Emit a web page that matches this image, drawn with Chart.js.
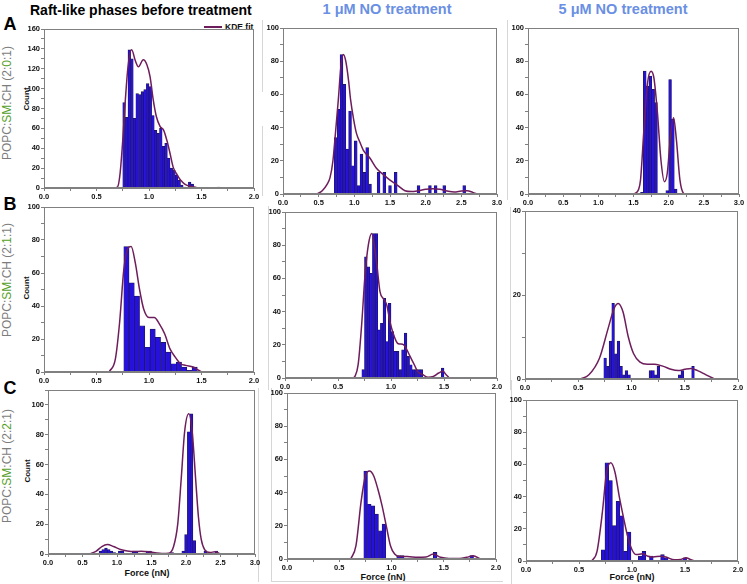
<!DOCTYPE html>
<html>
<head>
<meta charset="utf-8">
<script src="https://cdn.jsdelivr.net/npm/chart.js@4.4.1/dist/chart.umd.min.js"></script>
<style>
  body { margin: 0; background: #fff; width: 747px; height: 584px; position: relative; overflow: hidden;
         font-family: "Liberation Sans", Arial, sans-serif; }
  canvas { position: absolute; }
  .t { position: absolute; white-space: nowrap; line-height: 1; transform: translate(-50%, -50%); }
  .rot { transform: translate(-50%, -50%) rotate(-90deg); }
  .group { font-size: 12px; color: #7d7d7d; }
  .group b { color: #55a02a; font-weight: normal; }
  .cnt { font-size: 8px; font-weight: bold; color: #111; }
  .force { font-size: 9px; font-weight: bold; color: #111; }
  .letter { font-size: 18px; font-weight: bold; color: #000; }
  .head { font-size: 14.5px; font-weight: bold; color: #6a8fe3; }
  .sep { position: absolute; background: #d6d6d6; }
</style>
</head>
<body>
<div class="t" style="left:30px;top:10px;transform:translateY(-50%);font-size:14px;font-weight:bold;color:#000">Raft-like phases before treatment</div>
<div class="t head" style="left:387px;top:9px">1 μM NO treatment</div>
<div class="t head" style="left:623px;top:9px">5 μM NO treatment</div>

<div class="t letter" style="left:10px;top:24px">A</div>
<div class="t letter" style="left:10px;top:204px">B</div>
<div class="t letter" style="left:10px;top:388px">C</div>

<div class="t rot group" style="left:7px;top:103px">POPC:<b>SM</b>:CH (2:<b>0</b>:1)</div>
<div class="t rot group" style="left:7px;top:280px">POPC:<b>SM</b>:CH (2:<b>1</b>:1)</div>
<div class="t rot group" style="left:7px;top:466px">POPC:<b>SM</b>:CH (2:<b>2</b>:1)</div>

<div class="t rot cnt" style="left:27px;top:99px">Count</div>
<div class="t rot cnt" style="left:27px;top:288px">Count</div>
<div class="t rot cnt" style="left:28px;top:471px">Count</div>

<div class="t force" style="left:147px;top:573px">Force (nN)</div>
<div class="t force" style="left:383px;top:577px">Force (nN)</div>
<div class="t force" style="left:632px;top:577px">Force (nN)</div>

<div style="position:absolute;left:204px;top:26px;width:18px;height:1.5px;background:#6e1d5c"></div>
<div class="t" style="left:225px;top:27px;transform:translateY(-50%);font-size:8.5px;font-weight:bold;color:#111">KDE fit</div>

<div class="sep" style="left:262px;top:20px;width:1px;height:72px"></div>
<div class="sep" style="left:262px;top:126px;width:1px;height:70px"></div>
<div class="sep" style="left:507px;top:20px;width:1px;height:180px"></div>
<div class="sep" style="left:268px;top:206px;width:1px;height:184px"></div>
<div class="sep" style="left:510px;top:207px;width:1px;height:183px"></div>
<div class="sep" style="left:258px;top:388px;width:1px;height:194px"></div>
<div class="sep" style="left:271px;top:388px;width:1px;height:194px"></div>
<div class="sep" style="left:271px;top:581px;width:232px;height:1px"></div>
<div class="sep" style="left:511px;top:380px;width:1px;height:204px"></div>

<canvas id="a1"></canvas><canvas id="a2"></canvas><canvas id="a3"></canvas>
<canvas id="b1"></canvas><canvas id="b2"></canvas><canvas id="b3"></canvas>
<canvas id="c1"></canvas><canvas id="c2"></canvas><canvas id="c3"></canvas>

<script>
// tick labels
const force2 = [0, 0.5, 1.0, 1.5, 2.0];
const force3 = [0, 0.5, 1.0, 1.5, 2.0, 2.5, 3.0];
const count160 = [0, 20, 40, 60, 80, 100, 120, 140, 160];
const count100 = [0, 20, 40, 60, 80, 100];
const count40 = [0, 20, 40];

// A: POPC:SM:CH (2:0:1)
const a1Start = 0.75, a1Bin = 0.025;
const a1Counts = [86, 71, 139, 130, 70, 95, 94, 97, 99, 105, 102, 73, 58, 55, 60, 42, 45, 30, 20, 18, 13, 8, 3, 1, 0, 6, 4,
  0, 0, 0, 0, 0, 0, 0, 0, 0, 1];
const a1KdeX = [0.66, 0.70, 0.725, 0.75, 0.775, 0.80, 0.835, 0.87, 0.90, 0.945, 0.98, 1.01, 1.04, 1.07, 1.105, 1.14, 1.17, 1.20, 1.23, 1.27, 1.30, 1.34, 1.38, 1.43, 1.47];
const a1KdeY = [0, 1, 15, 48, 89, 122, 139, 128, 122, 129, 124, 112, 89, 72, 62, 58, 48, 35, 21, 13, 8, 4, 2, 1, 0];

const a2Start = 0.72, a2Bin = 0.04;
const a2Counts = [34, 51, 84, 66, 27, 50, 17, 32, 5, 24, 13, 28, 6, 0, 0, 13, 0, 13, 0, 5, 0, 13,
  0, 0, 0, 0, 0, 0, 0, 5, 0, 0, 0, 5, 0, 5, 0, 0, 5, 0, 0, 0, 0, 0, 0, 5];
const a2KdeX = [0.48, 0.55, 0.62, 0.66, 0.70, 0.73, 0.776, 0.81, 0.846, 0.88, 0.92, 0.947, 0.99, 1.03, 1.08, 1.125, 1.22, 1.31, 1.41, 1.50, 1.60, 1.71, 1.80, 1.90, 2.00, 2.10, 2.20, 2.30, 2.40, 2.50, 2.58, 2.66, 2.72];
const a2KdeY = [0, 2, 6, 10, 20, 34, 57, 76, 84, 80, 68, 57, 45, 36.5, 31, 26.5, 21.5, 15.5, 11.5, 8.4, 5.4, 2, 1.5, 2, 2.8, 3.2, 2.8, 1.8, 1.2, 1.8, 2, 1, 0];

const a3Start = 1.60, a3Bin = 0.04;
const a3Counts = [1, 74, 65, 71, 63, 55, 0, 0, 0, 2, 69, 45, 3];
const a3KdeX = [1.50, 1.53, 1.57, 1.60, 1.65, 1.70, 1.75, 1.79, 1.84, 1.89, 1.94, 1.98, 2.03, 2.07, 2.11, 2.16, 2.21, 2.24];
const a3KdeY = [0, 0.5, 2.5, 8.5, 40, 67, 74, 70, 49, 20.5, 7.4, 12.5, 36.6, 46, 32.6, 8.5, 0.5, 0];

// B: POPC:SM:CH (2:1:1)
const b1Start = 0.76, b1Bin = 0.05;
const b1Counts = [76, 54, 46, 28, 15, 26, 21, 18, 12, 5, 6, 3, 1, 3];
const b1KdeX = [0.62, 0.68, 0.72, 0.76, 0.80, 0.83, 0.87, 0.91, 0.95, 1.00, 1.05, 1.10, 1.15, 1.20, 1.25, 1.30, 1.35, 1.42, 1.46, 1.50];
const b1KdeY = [0, 8, 30, 62, 75, 76, 66, 50, 38, 33, 33, 29, 23, 14, 9, 5, 4, 3, 1.5, 0];

const b2Start = 0.725, b2Bin = 0.025;
const b2Counts = [5, 73, 67, 63, 87, 87, 29, 33, 48, 22, 45, 28, 16, 16, 5, 17, 27, 13, 8, 5, 5, 5, 5,
  0, 0, 0, 0, 0, 0, 0, 6];
const b2KdeX = [0.64, 0.66, 0.69, 0.723, 0.755, 0.786, 0.818, 0.865, 0.896, 0.93, 0.96, 0.99, 1.025, 1.06, 1.085, 1.12, 1.15, 1.18, 1.22, 1.25, 1.30, 1.35, 1.40, 1.45, 1.49, 1.52, 1.55];
const b2KdeY = [0, 1, 8, 32, 62, 80, 87, 69, 52, 47.6, 44, 34, 26, 21, 20.5, 20, 17, 13, 8, 4, 2, 0.5, 1, 3, 4, 2, 0];

const b3Start = 0.74, b3Bin = 0.025;
const b3Counts = [5, 3, 9, 18, 6, 9, 3, 1, 2, 1, 0, 0, 0, 0, 0, 0, 0, 2, 2, 1, 3,
  0, 0, 0, 0, 0, 0, 0, 1, 2, 0, 0, 0, 3];
const b3KdeX = [0.52, 0.60, 0.70, 0.78, 0.84, 0.875, 0.92, 0.97, 1.02, 1.08, 1.15, 1.22, 1.30, 1.37, 1.44, 1.50, 1.56, 1.62, 1.70, 1.78];
const b3KdeY = [0, 1, 5, 12, 17, 18, 16, 10, 6, 4, 3.5, 3.5, 3, 2.3, 2, 2.3, 2.5, 2, 1, 0];

// C: POPC:SM:CH (2:2:1)
const c1Start = 0.74, c1Bin = 0.04;
const c1Counts = [2, 3, 4, 3, 2, 1, 0, 2, 2, 0, 0, 0, 2, 2, 0, 0, 0, 2, 2, 0, 0, 0, 0, 0, 0, 0, 1,
  0, 0, 0, 2, 13, 82, 94, 9, 0, 0, 0, 2, 0, 0, 0, 2];
const c1KdeX = [0.60, 0.70, 0.78, 0.86, 0.95, 1.05, 1.15, 1.25, 1.35, 1.45, 1.55, 1.65, 1.75, 1.82, 1.88, 1.93, 1.98, 2.04, 2.09, 2.14, 2.18, 2.22, 2.27, 2.35, 2.42, 2.50];
const c1KdeY = [0, 2, 5, 6.3, 5, 3, 2, 1.6, 1.8, 1.5, 0.8, 0.3, 0.5, 5, 20, 50, 82, 94, 82, 50, 25, 10, 3, 1, 1.5, 0];

const c2Start = 0.735, c2Bin = 0.035;
const c2Counts = [53, 33, 32, 27, 17, 21, 0, 0, 0, 2, 2, 0, 0, 0, 0, 0, 0, 0, 0, 4,
  0, 0, 0, 0, 0, 0, 0, 0, 0, 2];
const c2KdeX = [0.61, 0.66, 0.71, 0.75, 0.79, 0.83, 0.87, 0.91, 0.95, 0.99, 1.03, 1.08, 1.15, 1.25, 1.33, 1.40, 1.47, 1.55, 1.65, 1.72, 1.78, 1.85];
const c2KdeY = [0, 8, 35, 50, 53, 50, 42, 32, 20, 8, 3, 1.5, 1.5, 1, 1.2, 3, 1, 0.3, 0.3, 1, 2, 0];

const c3Start = 0.71, c3Bin = 0.035;
const c3Counts = [7, 61, 50, 22, 37, 28, 6, 18, 0, 0, 3, 6, 0, 3, 0, 0, 4, 2, 0, 0, 0, 0, 2];
const c3KdeX = [0.62, 0.67, 0.72, 0.76, 0.80, 0.84, 0.88, 0.92, 0.96, 1.00, 1.04, 1.10, 1.15, 1.20, 1.27, 1.32, 1.40, 1.46, 1.51, 1.55, 1.59];
const c3KdeY = [0, 6, 30, 55, 61, 55, 40, 27, 15, 7, 4, 4.5, 3, 2.5, 3, 2.5, 0.7, 1, 2, 1, 0];

const axisGray = "#808080";
const yAxisW = 28, xAxisH = 14, padTop = 8, padRight = 10;

Chart.defaults.font.family = '"Liberation Sans", Arial, sans-serif';

const frame = {
  id: "frame",
  afterDraw(chart) {
    const { ctx, chartArea: a } = chart;
    ctx.save();
    ctx.strokeStyle = axisGray;
    ctx.lineWidth = 1;
    ctx.strokeRect(Math.round(a.left) + 0.5, Math.round(a.top) + 0.5, Math.round(a.right - a.left) - 1, Math.round(a.bottom - a.top) - 1);
    ctx.restore();
  },
};

function withMinor(labels, max) {
  const out = [];
  for (let i = 0; i < labels.length; i++) {
    out.push(labels[i]);
    if (i < labels.length - 1) out.push((labels[i] + labels[i + 1]) / 2);
  }
  const step = labels[1] - labels[0];
  let v = labels[labels.length - 1] + step / 2;
  while (v <= max + 1e-9) { out.push(v); v += step / 2; }
  return out;
}

function drawPanel(id, box, start, bin, counts, kdeX, kdeY, xLabels, yLabels, yMax) {
  const canvas = document.getElementById(id);
  const w = box.right - box.left + yAxisW + padRight;
  const h = padTop + box.bottom - box.top + xAxisH;
  canvas.width = w;
  canvas.height = h;
  canvas.style.left = box.left - yAxisW + "px";
  canvas.style.top = box.top - padTop + "px";

  const xMax = xLabels[xLabels.length - 1];
  const xTicks = withMinor(xLabels, xMax);
  const yTicks = withMinor(yLabels, yMax);
  const tickFont = { size: 7.5, weight: "bold" };

  new Chart(canvas, {
    type: "bar",
    data: {
      datasets: [
        {
          type: "line",
          data: kdeX.map((x, i) => ({ x: x, y: kdeY[i] })),
          borderColor: "#6e1d5c",
          borderWidth: 1.5,
          pointRadius: 0,
          cubicInterpolationMode: "monotone",
          order: 0,
        },
        {
          type: "bar",
          data: counts.map((c, i) => ({ x: start + bin * (i + 0.5), y: c || null })),
          backgroundColor: "#2611dc",
          borderColor: "#1d1650",
          borderWidth: 0.7,
          barPercentage: 1,
          categoryPercentage: 1,
          order: 1,
        },
      ],
    },
    options: {
      responsive: false,
      animation: false,
      layout: { padding: { top: padTop, right: padRight, left: 0, bottom: 0 } },
      plugins: { legend: { display: false }, tooltip: { enabled: false } },
      scales: {
        x: {
          type: "linear",
          min: 0,
          max: xMax,
          offset: false,
          afterBuildTicks: (s) => { s.ticks = xTicks.map((v) => ({ value: v })); },
          afterFit: (s) => { s.height = xAxisH; },
          grid: { drawOnChartArea: false, tickLength: 3, color: axisGray, offset: false },
          border: { color: axisGray },
          ticks: {
            autoSkip: false, maxRotation: 0, padding: 1, color: "#111", font: tickFont,
            callback: (v) => (xLabels.includes(v) ? v.toFixed(1) : ""),
          },
        },
        y: {
          min: 0,
          max: yMax,
          afterBuildTicks: (s) => { s.ticks = yTicks.map((v) => ({ value: v })); },
          afterFit: (s) => { s.width = yAxisW; },
          grid: { drawOnChartArea: false, tickLength: 3, color: axisGray },
          border: { color: axisGray },
          ticks: {
            autoSkip: false, padding: 1, color: "#111", font: tickFont,
            callback: (v) => (yLabels.includes(v) ? String(v) : ""),
          },
        },
      },
    },
    plugins: [frame],
  });
}

drawPanel("a1", { left: 44, top: 29, right: 254, bottom: 188 }, a1Start, a1Bin, a1Counts, a1KdeX, a1KdeY, force2, count160, 160);
drawPanel("a2", { left: 283, top: 28, right: 497, bottom: 194 }, a2Start, a2Bin, a2Counts, a2KdeX, a2KdeY, force3, count100, 100);
drawPanel("a3", { left: 528, top: 28, right: 739, bottom: 194 }, a3Start, a3Bin, a3Counts, a3KdeX, a3KdeY, force3, count100, 100);
drawPanel("b1", { left: 44, top: 207, right: 254, bottom: 372 }, b1Start, b1Bin, b1Counts, b1KdeX, b1KdeY, force2, count100, 100);
drawPanel("b2", { left: 285, top: 212, right: 497, bottom: 378 }, b2Start, b2Bin, b2Counts, b2KdeX, b2KdeY, force2, count100, 100);
drawPanel("b3", { left: 525, top: 211, right: 738, bottom: 379 }, b3Start, b3Bin, b3Counts, b3KdeX, b3KdeY, force2, count40, 40);
drawPanel("c1", { left: 48, top: 390, right: 255, bottom: 554 }, c1Start, c1Bin, c1Counts, c1KdeX, c1KdeY, force3, count100, 110);
drawPanel("c2", { left: 287, top: 393, right: 496, bottom: 559 }, c2Start, c2Bin, c2Counts, c2KdeX, c2KdeY, force2, count100, 100);
drawPanel("c3", { left: 526, top: 400, right: 738, bottom: 561 }, c3Start, c3Bin, c3Counts, c3KdeX, c3KdeY, force2, count100, 100);
</script>
</body>
</html>
